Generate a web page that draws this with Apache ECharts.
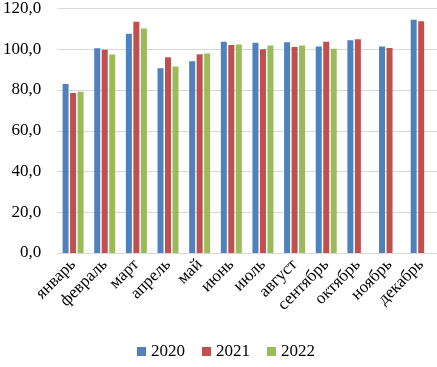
<!DOCTYPE html>
<html>
<head>
<meta charset="utf-8">
<script src="https://cdn.jsdelivr.net/npm/echarts@6/dist/echarts.min.js"></script>
<style>
  html, body { margin: 0; padding: 0; background: #fff; }
  #chart { width: 437px; height: 367px; }
</style>
</head>
<body>
<div id="chart"></div>
<script>
// месяцы и значения по годам
var months = ['январь', 'февраль', 'март', 'апрель', 'май', 'июнь', 'июль', 'август', 'сентябрь', 'октябрь', 'ноябрь', 'декабрь'];
var years = ['2020', '2021', '2022'];
var v2020 = [83.0, 100.5, 107.6, 90.7, 94.1, 103.7, 103.2, 103.4, 101.3, 104.4, 101.3, 114.5];
var v2021 = [78.5, 99.8, 113.5, 96.1, 97.6, 102.1, 100.0, 101.1, 103.7, 104.9, 100.6, 113.8];
var v2022 = [79.2, 97.4, 110.2, 91.5, 97.9, 102.3, 101.8, 101.8, 100.3, null, null, null];

var colors = ['#4F81BD', '#C0504D', '#9BBB59'];
var serif = 'Liberation Serif';

var chart = echarts.init(document.getElementById('chart'));

function bar(name, data) {
  return {
    name: name,
    type: 'bar',
    barWidth: 6,
    barGap: '25%',
    data: data
  };
}

chart.setOption({
  color: colors,
  animation: false,
  textStyle: { fontFamily: serif, color: '#000' },
  grid: { left: 55, right: 0, top: 7, bottom: 114 },
  legend: {
    bottom: 2,
    left: 132,
    itemWidth: 9,
    itemHeight: 9,
    itemGap: 17,
    icon: 'rect',
    data: years,
    textStyle: { fontFamily: serif, fontSize: 17, color: '#000' }
  },
  xAxis: {
    type: 'category',
    data: months,
    axisTick: { show: false },
    axisLine: { lineStyle: { color: '#d9d9d9' } },
    axisLabel: {
      rotate: 45,
      interval: 0,
      margin: 9,
      fontFamily: serif,
      fontSize: 17,
      color: '#000'
    }
  },
  yAxis: {
    type: 'value',
    min: 0,
    max: 120,
    interval: 20,
    axisLine: { show: false },
    axisTick: { show: false },
    splitLine: { lineStyle: { color: '#d9d9d9' } },
    axisLabel: {
      margin: 16,
      fontFamily: serif,
      fontSize: 17,
      color: '#000',
      formatter: function (v) { return v.toFixed(1).replace('.', ','); }
    }
  },
  series: [
    bar(years[0], v2020),
    bar(years[1], v2021),
    bar(years[2], v2022)
  ]
});
</script>
</body>
</html>
